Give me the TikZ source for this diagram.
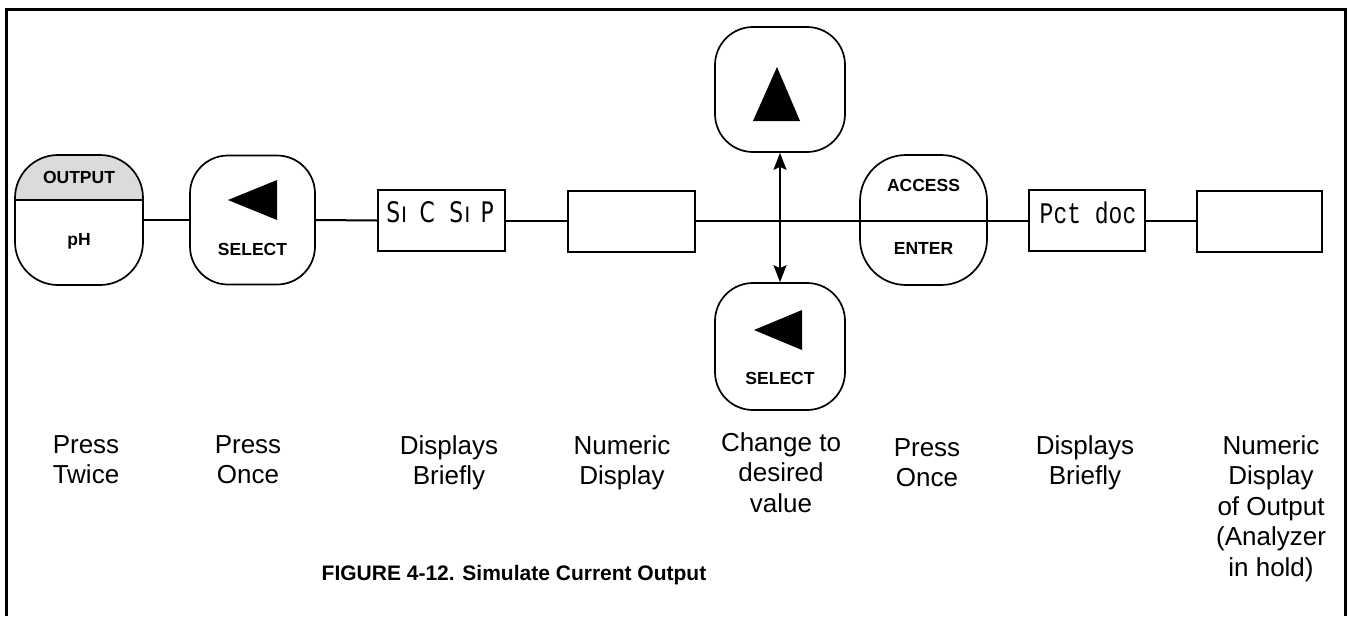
\documentclass[tikz,border=0pt]{standalone}
\usepackage{fontspec}
\setmainfont{Liberation Sans}
\newfontfamily\lcdfont{Liberation Mono}
\newfontfamily\lcdsans{DejaVu Sans}
\usetikzlibrary{arrows.meta}
\begin{document}
\begin{tikzpicture}[x=1pt,y=-1pt,
  btn/.style={draw, line width=1.7pt, rounded corners=38pt, inner sep=0pt, minimum width=127pt, minimum height=129pt},
  lcdbox/.style={draw, line width=2.2pt, inner sep=0pt, minimum width=127pt, minimum height=61pt},
  wire/.style={line width=2pt},
  keytxt/.style={font=\bfseries\fontsize{17.5}{20}\selectfont, inner sep=0pt, anchor=base},
  lbl/.style={font=\fontsize{26}{30.5}\selectfont, align=center, inner sep=0pt, anchor=north},
  tri/.style={fill=black}
]
\useasboundingbox (0,0) rectangle (1348,616);
% frame
\draw[line width=2.8pt] (6.5,616) -- (6.5,9.5) -- (1345.5,9.5) -- (1345.5,616);

% buttons
\node[btn, rounded corners=43pt, minimum width=128pt, minimum height=130pt,
  path picture={\fill[black!14, sharp corners] ([yshift=2pt]path picture bounding box.north west) rectangle ([yshift=-46pt]path picture bounding box.north east);}] (out) at (79,220) {};
\draw[line width=1.5pt] ([yshift=-46pt]out.north west) -- ([yshift=-46pt]out.north east);
\node[keytxt] (outt) at (79,183) {OUTPUT};
\node[keytxt] (pht) at (79,245) {pH};

\node[btn, minimum width=125pt] (sel1) at (252.5,220) {};
\fill[tri] (228,200) -- (277,180) -- (277,220) -- cycle;
\node[keytxt] (sel1t) at (252.5,255) {SELECT};

\node[btn, minimum width=130pt, minimum height=125pt] (up) at (780,89.5) {};
\fill[tri] (777,67) -- (800,121) -- (753,121) -- cycle;

\node[btn, minimum width=130pt, minimum height=127pt] (down) at (780,346.5) {};
\fill[tri] (754,330) -- (802,310) -- (802,350) -- cycle;
\node[keytxt] (downt) at (780,384) {SELECT};

\node[btn, rounded corners=46pt, minimum width=127pt, minimum height=130pt] (acc) at (923.5,220) {};
\node[keytxt] (acct) at (923.5,191) {ACCESS};
\node[keytxt] (entt) at (923.5,254) {ENTER};

% display boxes
\node[lcdbox] (box1) at (441.5,220.5) {};
\node[inner sep=0pt, anchor=base] (box1t) at (440,222) {\lcdsans\fontsize{19.5}{20}\selectfont\scalebox{1.12}[1.45]{S\kern1ptı\kern11pt C\kern13pt S\kern1ptı\kern9pt P}};
\node[lcdbox] (box2) at (631.5,221.5) {};
\node[lcdbox, minimum width=116pt] (pct) at (1087,220.5) {};
\node[inner sep=0pt, anchor=base] (pctt) at (1088,223) {\lcdfont\fontsize{23}{24}\selectfont\scalebox{1}[1.3]{Pct doc}};
\node[lcdbox, minimum width=125pt] (box3) at (1259.5,221.5) {};

% connectors
\draw[wire] (out.east) -- (sel1.west);
\draw[wire] (sel1.east) -- (box1.west);
\draw[wire] (box1.east) -- (box1.east -| box2.west);
\draw[wire] (box2.east |- pct.west) -- (pct.west);
\draw[wire] (pct.east) -- (pct.east -| box3.west);
\draw[wire, {Stealth[length=17pt,width=13pt,inset=3pt]}-{Stealth[length=17pt,width=13pt,inset=3pt]}] (up.south) -- (down.north);

% labels
\node[lbl] (l1) at (86,435) {Press\\Twice};
\node[lbl] (l2) at (248,435) {Press\\Once};
\node[lbl] (l3) at (449,435) {Displays\\Briefly};
\node[lbl] (l4) at (622,435) {Numeric\\Display};
\node[lbl] (l5) at (781,432) {Change to\\desired\\value};
\node[lbl] (l6) at (927,438) {Press\\Once};
\node[lbl] (l7) at (1085,435) {Displays\\Briefly};
\node[lbl] (l8) at (1271,435) {Numeric\\Display\\of Output\\(Analyzer\\in hold)};

\node[font=\bfseries\fontsize{21}{24}\selectfont, inner sep=0pt] (cap) at (514,575) {FIGURE 4-12. Simulate Current Output};
\end{tikzpicture}
\end{document}
